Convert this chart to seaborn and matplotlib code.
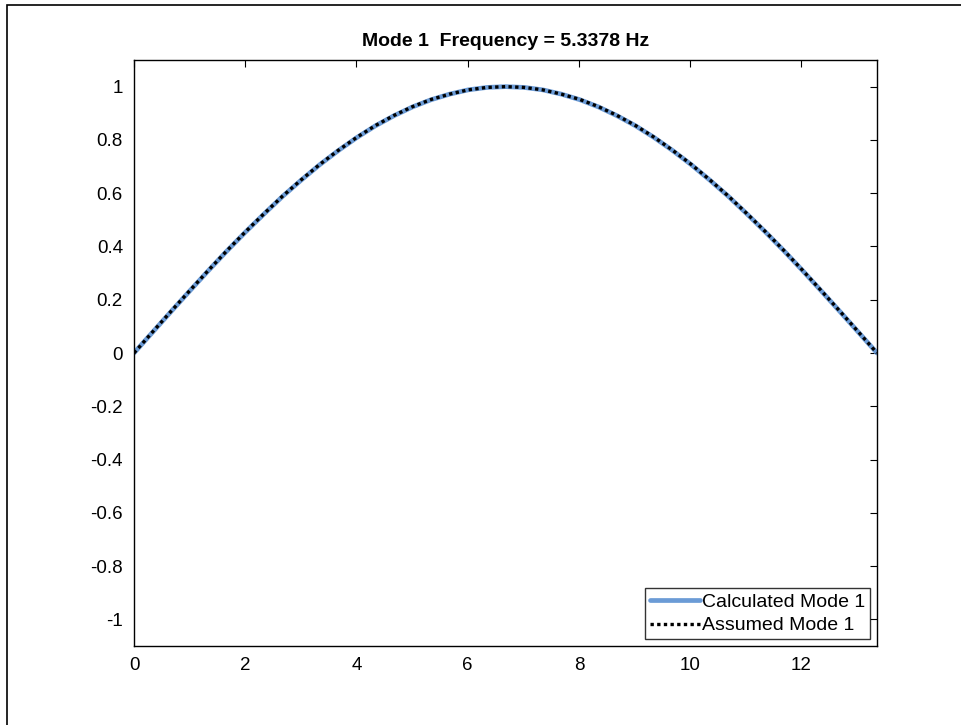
import matplotlib
matplotlib.use("Agg")
import matplotlib.pyplot as plt
import seaborn as sns
import pandas as pd
from matplotlib.patches import Rectangle

# Data
x_pos = [0.0, 0.334, 0.668, 1.002, 1.336, 1.67, 2.004, 2.338, 2.672, 3.006, 3.34,
         3.674, 4.008, 4.342, 4.676, 5.01, 5.344, 5.678, 6.012, 6.346, 6.68,
         7.014, 7.348, 7.682, 8.016, 8.35, 8.684, 9.018, 9.352, 9.686, 10.02,
         10.354, 10.688, 11.022, 11.356, 11.69, 12.024, 12.358, 12.692, 13.026, 13.36]
calculated = [0.0, 0.078, 0.156, 0.233, 0.309, 0.383, 0.454, 0.522, 0.588, 0.649, 0.707,
              0.760, 0.809, 0.853, 0.891, 0.924, 0.951, 0.972, 0.988, 0.997, 1.0,
              0.997, 0.988, 0.972, 0.951, 0.924, 0.891, 0.853, 0.809, 0.760, 0.707,
              0.649, 0.588, 0.522, 0.454, 0.383, 0.309, 0.233, 0.156, 0.078, 0.0]
assumed = [0.0, 0.079, 0.157, 0.234, 0.310, 0.384, 0.455, 0.523, 0.589, 0.650, 0.708,
           0.761, 0.810, 0.854, 0.892, 0.925, 0.952, 0.972, 0.988, 0.997, 1.0,
           0.997, 0.988, 0.972, 0.952, 0.925, 0.892, 0.854, 0.810, 0.761, 0.708,
           0.650, 0.589, 0.523, 0.455, 0.384, 0.310, 0.234, 0.157, 0.079, 0.0]
x_ticks = [0, 2, 4, 6, 8, 10, 12]
y_ticks = [-1, -0.8, -0.6, -0.4, -0.2, 0, 0.2, 0.4, 0.6, 0.8, 1]
y_tick_labels = ["-1", "-0.8", "-0.6", "-0.4", "-0.2", "0", "0.2", "0.4", "0.6", "0.8", "1"]
title = "Mode 1  Frequency = 5.3378 Hz"
labels = ["Calculated Mode 1", "Assumed Mode 1"]

sns.set_style("white")
plt.rcParams["font.family"] = ["Liberation Sans", "DejaVu Sans"]
plt.rcParams["text.color"] = "black"

df = pd.DataFrame({"x": x_pos, "calc": calculated, "assumed": assumed})

fig = plt.figure(figsize=(9.61, 7.25), dpi=100)
ax = fig.add_axes([134 / 961, 1 - 646 / 725, (877 - 134) / 961, (646 - 60) / 725])

sns.lineplot(data=df, x="x", y="calc", ax=ax, color="#6b9bd6", linewidth=3.4,
             sort=False, label=labels[0])
sns.lineplot(data=df, x="x", y="assumed", ax=ax, color="black", linewidth=2.4,
             sort=False, label=labels[1], linestyle=(0, (1.0, 1.0)))

ax.set_xlim(0, 13.36)
ax.set_ylim(-1.1, 1.1)
ax.set_xticks(x_ticks)
ax.set_xticklabels([str(t) for t in x_ticks])
ax.set_yticks(y_ticks)
ax.set_yticklabels(y_tick_labels)
ax.set_xlabel("")
ax.set_ylabel("")
ax.tick_params(direction="in", length=5, width=0.8, top=True, right=True,
               labelsize=13.5, pad=8, colors="black")
for s in ax.spines.values():
    s.set_visible(True)
    s.set_color("black")
    s.set_linewidth(1.0)
ax.set_title(title, fontsize=14, fontweight="bold", pad=10, color="black")

leg = ax.legend(loc="lower right", fontsize=14, frameon=True, fancybox=False,
                borderaxespad=0.35, handlelength=2.6, handletextpad=0.1,
                borderpad=0.25, labelspacing=0.3)
leg.get_frame().set_edgecolor("black")
leg.get_frame().set_linewidth(1.0)
for t in leg.get_texts():
    t.set_color("black")

# outer figure frame (MATLAB-like)
fig.patches.append(Rectangle((7 / 961, -0.05), 1.1, 1 - 5 / 725 + 0.05,
                             transform=fig.transFigure, fill=False,
                             edgecolor="black", linewidth=1.2))

fig.savefig("out.png", dpi=100)
